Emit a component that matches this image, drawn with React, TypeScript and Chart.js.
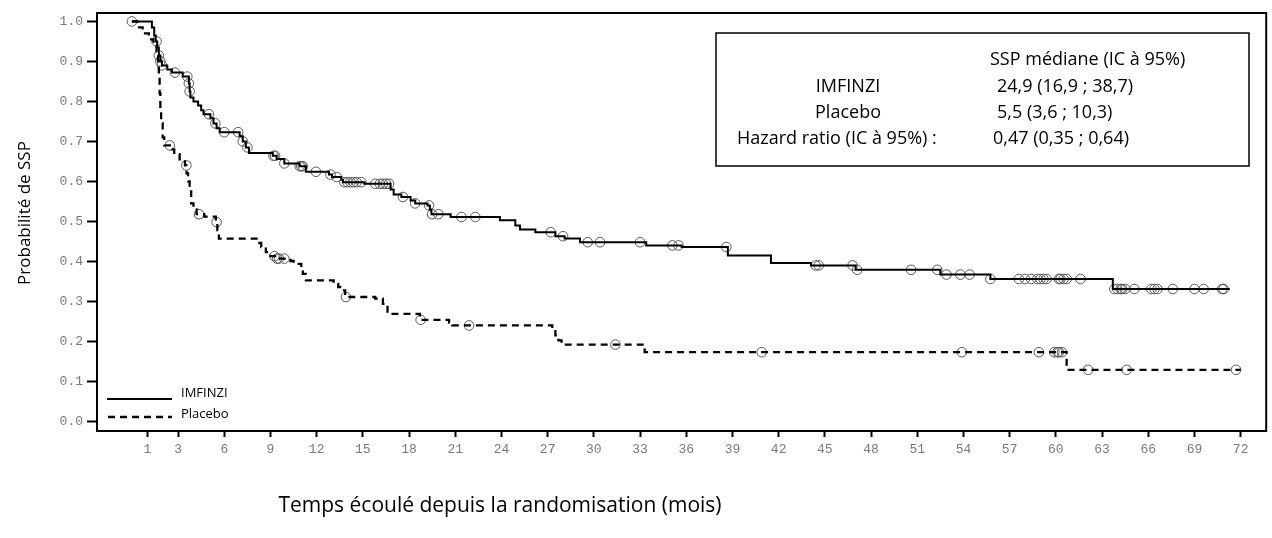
import React, { useEffect, useRef } from "react";
import { Chart, registerables } from "chart.js";

Chart.register(...registerables);

// ---- Data ----
const imfinziTimes = [0, 1.3, 1.45, 1.55, 1.65, 1.75, 1.85, 1.95, 2.3, 2.6, 3.3, 3.7, 3.75, 3.8, 4.0, 4.3, 4.5, 4.65, 5.1, 5.3, 5.5, 5.7, 7.0, 7.2, 7.4, 7.6, 9.15, 9.4, 9.9, 10.9, 11.3, 12.8, 13.0, 13.6, 13.7, 15.1, 16.8, 17.0, 17.5, 18.1, 18.4, 19.2, 19.35, 19.45, 20.7, 23.9, 24.9, 25.2, 26.2, 27.5, 28.1, 29.1, 33.4, 35.7, 38.7, 41.5, 44.1, 47.0, 52.5, 55.75, 63.7];
const imfinziSurv = [1.0, 0.985, 0.965, 0.95, 0.935, 0.915, 0.9, 0.89, 0.88, 0.872, 0.862, 0.845, 0.825, 0.81, 0.8, 0.79, 0.778, 0.768, 0.758, 0.745, 0.733, 0.723, 0.713, 0.7, 0.685, 0.671, 0.664, 0.656, 0.645, 0.638, 0.624, 0.617, 0.611, 0.604, 0.598, 0.594, 0.58, 0.567, 0.561, 0.552, 0.545, 0.54, 0.53, 0.518, 0.511, 0.503, 0.49, 0.48, 0.473, 0.463, 0.457, 0.448, 0.44, 0.436, 0.415, 0.396, 0.39, 0.379, 0.367, 0.356, 0.331];
const imfinziLastTime = 71.3;
const imfinziCensor = [0.0, 1.6, 1.75, 1.85, 1.95, 2.8, 3.6, 3.7, 3.75, 5.0, 5.42, 6.0, 6.9, 7.2, 7.5, 9.2, 9.3, 9.9, 10.9, 11.0, 11.1, 11.95, 12.9, 13.3, 13.8, 14.0, 14.2, 14.4, 14.6, 14.9, 15.8, 16.1, 16.3, 16.5, 16.7, 17.6, 18.4, 19.3, 19.5, 19.9, 21.4, 22.3, 27.2, 28.0, 29.6, 30.4, 33.0, 35.1, 35.5, 38.6, 44.4, 44.6, 46.8, 47.1, 50.6, 52.3, 52.9, 53.8, 54.4, 55.75, 57.6, 58.0, 58.4, 58.8, 59.0, 59.2, 59.4, 60.2, 60.3, 60.5, 60.7, 61.6, 63.8, 64.0, 64.2, 64.3, 64.5, 65.1, 66.2, 66.4, 66.6, 67.6, 69.0, 69.6, 70.8, 70.9];

const placeboTimes = [0, 0.35, 0.7, 1.1, 1.4, 1.6, 1.7, 1.75, 1.8, 1.85, 1.9, 2.0, 2.1, 2.6, 2.75, 3.1, 3.45, 3.55, 3.65, 3.75, 3.85, 4.0, 4.2, 4.7, 5.45, 5.55, 5.65, 8.2, 8.4, 8.7, 9.0, 9.3, 10.3, 10.5, 11.0, 11.1, 11.3, 13.1, 13.4, 13.7, 13.85, 15.8, 16.3, 16.6, 18.7, 20.6, 20.8, 27.3, 27.5, 27.7, 27.9, 33.3, 60.7];
const placeboSurv = [1.0, 0.985, 0.97, 0.955, 0.94, 0.925, 0.9, 0.86, 0.82, 0.78, 0.745, 0.71, 0.69, 0.68, 0.668, 0.655, 0.64, 0.62, 0.6, 0.575, 0.545, 0.53, 0.518, 0.512, 0.498, 0.478, 0.457, 0.446, 0.436, 0.423, 0.413, 0.407, 0.401, 0.394, 0.381, 0.369, 0.3525, 0.344, 0.336, 0.3275, 0.311, 0.307, 0.294, 0.269, 0.254, 0.247, 0.24, 0.23, 0.215, 0.2025, 0.192, 0.173, 0.129];
const placeboLastTime = 72.0;
const placeboCensor = [2.46, 3.54, 4.36, 5.5, 9.26, 9.43, 9.55, 9.9, 13.9, 18.75, 21.9, 31.4, 40.9, 53.9, 58.9, 59.9, 60.1, 60.2, 60.4, 62.1, 64.6, 71.7];

const xTickValues = [1, 3, 6, 9, 12, 15, 18, 21, 24, 27, 30, 33, 36, 39, 42, 45, 48, 51, 54, 57, 60, 63, 66, 69, 72];
const yTickValues = [0, 0.1, 0.2, 0.3, 0.4, 0.5, 0.6, 0.7, 0.8, 0.9, 1.0];

const seriesNames = ["IMFINZI", "Placebo"];
const xTitle = "Temps écoulé depuis la randomisation (mois)";
const yTitle = "Probabilité de SSP";
const boxHeader = "SSP médiane (IC à 95%)";
const boxLabels = ["IMFINZI", "Placebo", "Hazard ratio (IC à 95%) :"];
const boxValues = ["24,9 (16,9 ; 38,7)", "5,5 (3,6 ; 10,3)", "0,47 (0,35 ; 0,64)"];

// ---- helpers ----
function survAt(times: number[], surv: number[], t: number): number {
  let v = surv[0];
  for (let i = 0; i < times.length; i++) {
    if (times[i] <= t) v = surv[i];
    else break;
  }
  return v;
}
function curve(times: number[], surv: number[], last: number) {
  const pts = times.map((t, i) => ({ x: t, y: surv[i] }));
  pts.push({ x: last, y: surv[surv.length - 1] });
  return pts;
}
function censorPts(times: number[], surv: number[], cens: number[]) {
  return cens.map((t) => ({ x: t, y: survAt(times, surv, t) }));
}

const TEXT_FONT = "'Open Sans', 'Liberation Sans', sans-serif";
const MONO_FONT = "'Liberation Mono', 'DejaVu Sans Mono', monospace";

const decorPlugin = {
  id: "decor",
  afterDraw(chart: any) {
    const { ctx, chartArea } = chart;
    ctx.save();
    // plot frame
    ctx.strokeStyle = "#000";
    ctx.lineWidth = 2;
    ctx.setLineDash([]);
    ctx.strokeRect(chartArea.left, chartArea.top, chartArea.right - chartArea.left, chartArea.bottom - chartArea.top);

    // legend (bottom-left inside)
    ctx.lineWidth = 2;
    ctx.beginPath();
    ctx.moveTo(107, 399);
    ctx.lineTo(172, 399);
    ctx.stroke();
    ctx.lineWidth = 2.3;
    ctx.setLineDash([7, 5]);
    ctx.beginPath();
    ctx.moveTo(108, 417);
    ctx.lineTo(172, 417);
    ctx.stroke();
    ctx.setLineDash([]);
    ctx.fillStyle = "#000";
    ctx.font = `13px ${TEXT_FONT}`;
    ctx.textAlign = "left";
    ctx.textBaseline = "middle";
    ctx.fillText(seriesNames[0], 181, 393);
    ctx.fillText(seriesNames[1], 181, 414);

    // info box
    ctx.lineWidth = 1.5;
    ctx.strokeRect(716, 33, 1249 - 716, 133);
    ctx.font = `18px ${TEXT_FONT}`;
    ctx.textBaseline = "middle";
    ctx.textAlign = "left";
    ctx.fillText(boxHeader, 990, 60);
    const rowY = [87, 113, 139];
    ctx.textAlign = "center";
    ctx.fillText(boxLabels[0], 848, rowY[0]);
    ctx.fillText(boxLabels[1], 848, rowY[1]);
    ctx.textAlign = "left";
    ctx.fillText(boxLabels[2], 737, rowY[2]);
    ctx.fillText(boxValues[0], 997, rowY[0]);
    ctx.fillText(boxValues[1], 997, rowY[1]);
    ctx.fillText(boxValues[2], 993, rowY[2]);

    // axis titles
    ctx.font = `21px ${TEXT_FONT}`;
    ctx.textAlign = "center";
    ctx.fillText(xTitle, 500, 506);
    ctx.save();
    ctx.translate(25, 213);
    ctx.rotate(-Math.PI / 2);
    ctx.font = `17px ${TEXT_FONT}`;
    ctx.fillText(yTitle, 0, 0);
    ctx.restore();
    ctx.restore();
  },
};

export default function App() {
  const canvasRef = useRef<HTMLCanvasElement | null>(null);

  useEffect(() => {
    const canvas = canvasRef.current;
    if (!canvas) return;
    const censorStyle = {
      showLine: false,
      pointRadius: 4.8,
      pointHoverRadius: 4.8,
      pointStyle: "circle",
      pointBorderColor: "#5a5a5a",
      pointBackgroundColor: "rgba(0,0,0,0)",
      pointBorderWidth: 1,
    };
    const chart = new Chart(canvas, {
      type: "line",
      data: {
        datasets: [
          {
            label: seriesNames[0],
            data: curve(imfinziTimes, imfinziSurv, imfinziLastTime),
            borderColor: "#000",
            borderWidth: 2,
            stepped: true,
            pointRadius: 0,
            fill: false,
          },
          {
            label: seriesNames[1],
            data: curve(placeboTimes, placeboSurv, placeboLastTime),
            borderColor: "#000",
            borderWidth: 2.3,
            borderDash: [7, 5],
            stepped: true,
            pointRadius: 0,
            fill: false,
          },
          {
            label: seriesNames[0] + " censored",
            data: censorPts(imfinziTimes, imfinziSurv, imfinziCensor),
            ...censorStyle,
          } as any,
          {
            label: seriesNames[1] + " censored",
            data: censorPts(placeboTimes, placeboSurv, placeboCensor),
            ...censorStyle,
          } as any,
        ],
      },
      options: {
        responsive: false,
        animation: false,
        layout: { padding: { top: 13, right: 2, left: 0, bottom: 0 } },
        plugins: {
          legend: { display: false },
          tooltip: { enabled: false },
          title: { display: false },
        },
        scales: {
          x: {
            type: "linear",
            min: -2.265,
            max: 73.66,
            afterBuildTicks: (scale: any) => {
              scale.ticks = xTickValues.map((v) => ({ value: v }));
            },
            afterFit: (scale: any) => {
              scale.height = 107;
            },
            grid: {
              drawOnChartArea: false,
              drawTicks: true,
              tickLength: 6,
              tickWidth: 2,
              tickColor: "#000",
            },
            border: { display: false },
            ticks: {
              autoSkip: false,
              maxRotation: 0,
              padding: 5,
              color: "#7a7a7a",
              font: { family: MONO_FONT, size: 13 },
              callback: (v: any) => String(v),
            },
          },
          y: {
            type: "linear",
            min: -0.024,
            max: 1.021,
            afterBuildTicks: (scale: any) => {
              scale.ticks = yTickValues.map((v) => ({ value: v }));
            },
            afterFit: (scale: any) => {
              scale.width = 97;
            },
            grid: {
              drawOnChartArea: false,
              drawTicks: true,
              tickLength: 10,
              tickWidth: 2,
              tickColor: "#000",
            },
            border: { display: false },
            ticks: {
              autoSkip: false,
              padding: 4,
              color: "#7a7a7a",
              font: { family: MONO_FONT, size: 13 },
              callback: (v: any) => Number(v).toFixed(1),
            },
          },
        },
      },
      plugins: [decorPlugin],
    } as any);
    return () => chart.destroy();
  }, []);

  return (
    <div style={{ position: "fixed", left: 0, top: 0, width: 1272, height: 538, background: "#fff" }}>
      <canvas ref={canvasRef} width={1272} height={538} style={{ display: "block" }} />
    </div>
  );
}
